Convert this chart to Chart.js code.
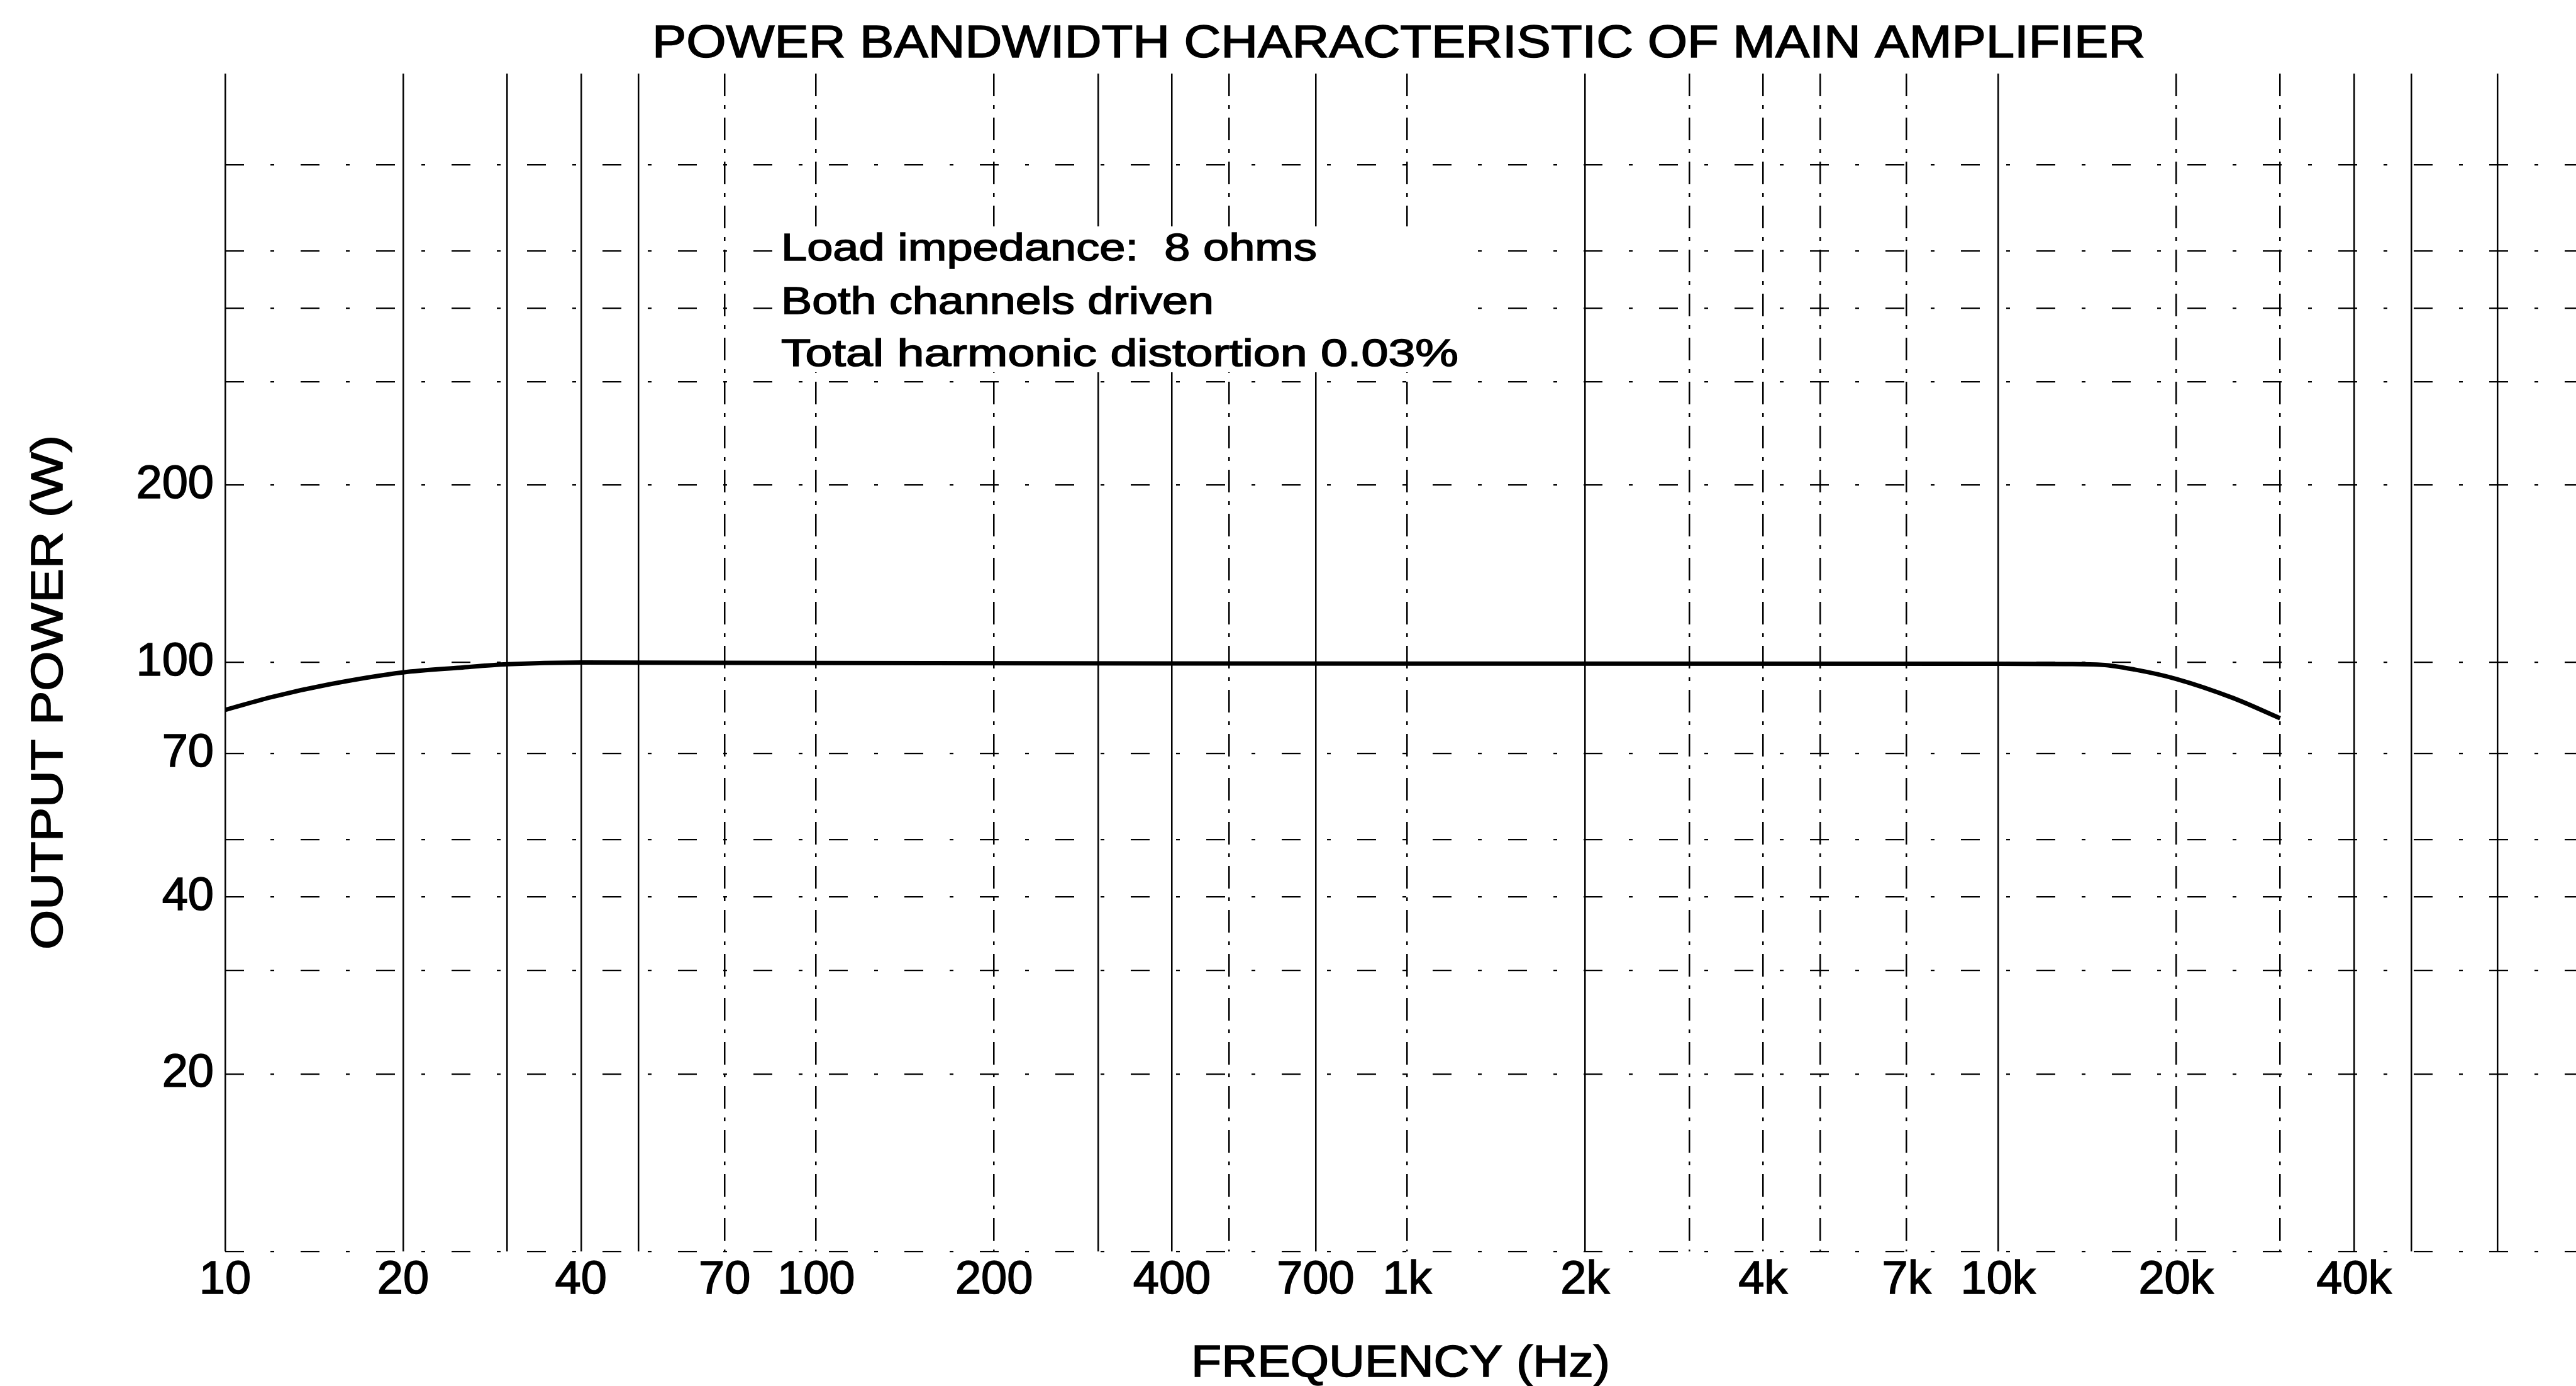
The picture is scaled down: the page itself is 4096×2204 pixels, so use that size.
<!DOCTYPE html>
<html>
<head>
<meta charset="utf-8">
<script src="https://cdn.jsdelivr.net/npm/chart.js@4.4.1/dist/chart.umd.min.js"></script>
<style>
html, body { margin: 0; padding: 0; background: #fff; }
#wrap { width: 4096px; height: 2204px; }
</style>
</head>
<body>
<div id="wrap"><canvas id="pbChart"></canvas></div>
<script>
// curve (Hz -> W)
const freqs = [10, 12, 15, 20, 25, 30, 40, 100, 1000, 10000, 13000, 15000, 17000, 20000, 25000, 30000];
const power = [83.1, 87.4, 91.8, 96.2, 98, 99.3, 100, 99.8, 99.6, 99.5, 99.4, 99.1, 97.3, 93.8, 87, 80.4];

// grid and tick labels
const xGrid = [10, 20, 30, 40, 50, 70, 100, 200, 300, 400, 500, 700, 1000, 2000, 3000, 4000, 5000, 7000, 10000, 20000, 30000, 40000, 50000, 70000];
const xTickLabels = { 10: "10", 20: "20", 40: "40", 70: "70", 100: "100", 200: "200", 400: "400", 700: "700", 1000: "1k", 2000: "2k", 4000: "4k", 7000: "7k", 10000: "10k", 20000: "20k", 40000: "40k" };
const solidX = [10, 20, 30, 40, 50, 300, 400, 700, 2000, 10000, 40000, 50000, 70000];
const yGrid = [10, 20, 30, 40, 50, 70, 100, 200, 300, 400, 500, 700];
const yTickLabels = { 20: "20", 40: "40", 70: "70", 100: "100", 200: "200" };

const TITLE = "POWER BANDWIDTH CHARACTERISTIC OF MAIN AMPLIFIER";
const NOTES = ["Load impedance:  8 ohms", "Both channels driven", "Total harmonic distortion 0.03%"];
const X_TITLE = "FREQUENCY (Hz)";
const Y_TITLE = "OUTPUT POWER (W)";

const FONT = '"Liberation Sans", Arial, sans-serif';

// draw text squeezed/stretched to a given width
function fitText(c, s, x, y, w, size, align) {
    c.save();
    c.font = size + "px " + FONT;
    c.textAlign = "left";
    c.textBaseline = "alphabetic";
    const k = w / c.measureText(s).width;
    const x0 = align === "center" ? x - w / 2 : x;
    c.translate(x0, y);
    c.scale(k, 1);
    c.lineWidth = 1.6;
    c.strokeText(s, 0, 0);
    c.fillText(s, 0, 0);
    c.restore();
}

const textPlugin = {
    id: "pageText",
    afterDraw(chart) {
        const c = chart.ctx;
        c.save();
        // the grid is blanked behind the notes in the original
        c.fillStyle = "#fff";
        c.fillRect(1230, 360, 1100, 232);
        c.fillStyle = "#000";
        c.strokeStyle = "#000";
        fitText(c, TITLE, 2224, 91, 2374, 72, "center");
        fitText(c, NOTES[0], 1242, 414, 852, 62, "left");
        fitText(c, NOTES[1], 1242, 499, 688, 62, "left");
        fitText(c, NOTES[2], 1242, 582, 1077, 62, "left");
        fitText(c, X_TITLE, 2227, 2189, 666, 70, "center");
        c.translate(99, 1101);
        c.rotate(-Math.PI / 2);
        fitText(c, Y_TITLE, 0, 0, 818, 70, "center");
        c.restore();
    }
};

const ctx = document.getElementById("pbChart");
new Chart(ctx, {
    type: "line",
    data: {
        datasets: [{
            data: freqs.map((f, i) => ({ x: f, y: power[i] })),
            borderColor: "#000",
            borderWidth: 7,
            pointRadius: 0,
            fill: false,
            cubicInterpolationMode: "monotone"
        }]
    },
    options: {
        responsive: true,
        maintainAspectRatio: false,
        animation: false,
        devicePixelRatio: 1,
        layout: { padding: { top: 117, left: 0, right: 0, bottom: 0 } },
        plugins: { legend: { display: false }, title: { display: false }, tooltip: { enabled: false } },
        scales: {
            x: {
                type: "logarithmic",
                min: 10,
                max: 95000,
                afterBuildTicks: s => { s.ticks = xGrid.map(v => ({ value: v })); },
                afterFit: s => { s.height = 214; },
                ticks: {
                    autoSkip: false,
                    maxRotation: 0,
                    padding: 2,
                    color: "#000",
                    textStrokeColor: "#000",
                    textStrokeWidth: 1.6,
                    font: { family: FONT, size: 74 },
                    callback: v => xTickLabels[v] || ""
                },
                grid: { color: "#000", lineWidth: 2.5, drawTicks: false },
                border: { display: false, dash: c => solidX.includes(c.tick.value) ? [] : [36, 14, 6, 14] }
            },
            y: {
                type: "logarithmic",
                min: 10,
                max: 1000,
                afterBuildTicks: s => { s.ticks = yGrid.map(v => ({ value: v })); },
                afterFit: s => { s.width = 358; },
                ticks: {
                    autoSkip: false,
                    padding: 18,
                    color: "#000",
                    textStrokeColor: "#000",
                    textStrokeWidth: 1.6,
                    font: { family: FONT, size: 74 },
                    callback: v => yTickLabels[v] || ""
                },
                grid: { color: "#000", lineWidth: 2.2, drawTicks: false },
                border: { display: false, dash: [30, 42, 6, 42] }
            }
        }
    },
    plugins: [textPlugin]
});
</script>
</body>
</html>
